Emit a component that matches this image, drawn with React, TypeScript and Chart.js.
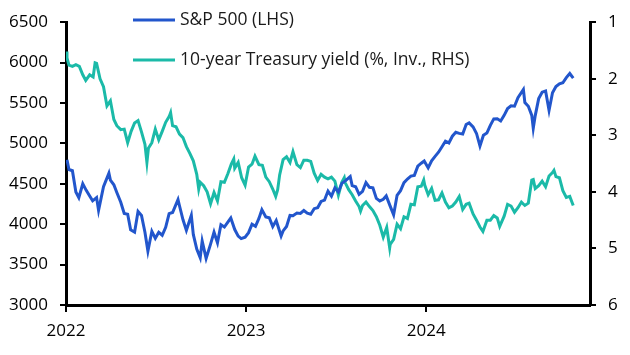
import React, { useEffect, useRef } from "react";
import { Chart, registerables } from "chart.js";

Chart.register(...registerables);

const yearTicks = [2022, 2023, 2024];
const xStart = "2022-01-01";
const xEnd = "2024-11-28";

const spxDates = [
  "2022-01-03","2022-01-07","2022-01-14","2022-01-21","2022-01-27","2022-02-04","2022-02-11","2022-02-18","2022-02-24","2022-03-04","2022-03-08","2022-03-18","2022-03-29","2022-04-01","2022-04-08","2022-04-14","2022-04-22","2022-04-29","2022-05-06","2022-05-12","2022-05-20","2022-05-27","2022-06-03","2022-06-10","2022-06-16","2022-06-24","2022-07-01","2022-07-08","2022-07-15","2022-07-22","2022-07-29","2022-08-05","2022-08-16","2022-08-19","2022-08-26","2022-09-02","2022-09-12","2022-09-16","2022-09-23","2022-09-30","2022-10-04","2022-10-12","2022-10-21","2022-10-28","2022-11-04","2022-11-11","2022-11-18","2022-11-25","2022-12-01","2022-12-09","2022-12-16","2022-12-22","2022-12-30",
  "2023-01-06","2023-01-13","2023-01-20","2023-01-27","2023-02-02","2023-02-10","2023-02-17","2023-02-24","2023-03-03","2023-03-13","2023-03-17","2023-03-24","2023-03-31","2023-04-06","2023-04-14","2023-04-21","2023-04-28","2023-05-05","2023-05-12","2023-05-19","2023-05-26","2023-06-02","2023-06-09","2023-06-16","2023-06-23","2023-06-30","2023-07-07","2023-07-14","2023-07-21","2023-07-31","2023-08-04","2023-08-11","2023-08-18","2023-08-25","2023-09-01","2023-09-08","2023-09-15","2023-09-22","2023-09-29","2023-10-06","2023-10-12","2023-10-20","2023-10-27","2023-11-03","2023-11-10","2023-11-17","2023-11-24","2023-12-01","2023-12-08","2023-12-15","2023-12-22","2023-12-28",
  "2024-01-05","2024-01-12","2024-01-19","2024-01-26","2024-02-02","2024-02-09","2024-02-16","2024-02-23","2024-03-01","2024-03-08","2024-03-15","2024-03-22","2024-03-28","2024-04-05","2024-04-12","2024-04-19","2024-04-26","2024-05-03","2024-05-10","2024-05-17","2024-05-24","2024-05-31","2024-06-07","2024-06-14","2024-06-21","2024-06-28","2024-07-05","2024-07-16","2024-07-19","2024-07-26","2024-08-02","2024-08-05","2024-08-09","2024-08-16","2024-08-23","2024-08-30","2024-09-06","2024-09-13","2024-09-20","2024-09-27","2024-10-04","2024-10-11","2024-10-18","2024-10-25"
];
const spxValues = [
  4797,4677,4662,4398,4327,4500,4419,4349,4289,4329,4171,4463,4632,4546,4488,4392,4272,4132,4123,3930,3901,4158,4109,3901,3667,3912,3825,3899,3863,3962,4130,4145,4305,4228,4058,3924,4110,3873,3693,3586,3791,3577,3753,3901,3771,3993,3965,4026,4077,3934,3852,3822,3840,
  3895,3999,3973,4071,4179,4090,4079,3970,4046,3855,3917,3971,4109,4105,4138,4133,4169,4136,4124,4192,4205,4282,4299,4410,4348,4450,4399,4505,4536,4589,4478,4464,4370,4406,4516,4457,4450,4320,4288,4308,4350,4224,4117,4358,4415,4514,4559,4595,4604,4719,4755,4783,
  4697,4784,4840,4891,4959,5027,5006,5089,5137,5124,5117,5234,5254,5204,5123,4967,5100,5128,5223,5303,5305,5278,5347,5432,5465,5460,5567,5667,5505,5459,5346,5186,5344,5554,5634,5648,5408,5626,5703,5738,5751,5815,5865,5808
];

const yldDates = [
  "2021-12-31","2022-01-03","2022-01-07","2022-01-14","2022-01-21","2022-01-28","2022-02-04","2022-02-10","2022-02-18","2022-02-25","2022-03-01","2022-03-04","2022-03-11","2022-03-18","2022-03-25","2022-04-01","2022-04-08","2022-04-14","2022-04-22","2022-04-29","2022-05-06","2022-05-13","2022-05-20","2022-05-27","2022-06-03","2022-06-10","2022-06-14","2022-06-17","2022-06-24","2022-07-01","2022-07-08","2022-07-15","2022-07-22","2022-07-29","2022-08-01","2022-08-05","2022-08-12","2022-08-19","2022-08-26","2022-09-02","2022-09-09","2022-09-16","2022-09-23","2022-09-27","2022-09-30","2022-10-07","2022-10-14","2022-10-21","2022-10-28","2022-11-04","2022-11-11","2022-11-18","2022-11-25","2022-12-02","2022-12-07","2022-12-09","2022-12-16","2022-12-23","2022-12-30",
  "2023-01-06","2023-01-13","2023-01-19","2023-01-27","2023-02-03","2023-02-10","2023-02-17","2023-02-24","2023-03-02","2023-03-06","2023-03-10","2023-03-17","2023-03-24","2023-03-31","2023-04-06","2023-04-14","2023-04-21","2023-04-28","2023-05-05","2023-05-12","2023-05-19","2023-05-26","2023-06-02","2023-06-09","2023-06-16","2023-06-23","2023-06-30","2023-07-07","2023-07-14","2023-07-19","2023-07-21","2023-07-28","2023-08-04","2023-08-11","2023-08-18","2023-08-21","2023-08-25","2023-09-01","2023-09-08","2023-09-15","2023-09-22","2023-09-29","2023-10-06","2023-10-13","2023-10-19","2023-10-20","2023-10-27","2023-11-03","2023-11-10","2023-11-17","2023-11-24","2023-12-01","2023-12-08","2023-12-15","2023-12-22","2023-12-27","2023-12-29",
  "2024-01-05","2024-01-12","2024-01-19","2024-01-26","2024-02-02","2024-02-09","2024-02-16","2024-02-23","2024-03-01","2024-03-08","2024-03-15","2024-03-22","2024-03-28","2024-04-05","2024-04-12","2024-04-19","2024-04-25","2024-05-03","2024-05-10","2024-05-17","2024-05-24","2024-05-29","2024-06-07","2024-06-14","2024-06-21","2024-06-28","2024-07-05","2024-07-12","2024-07-19","2024-07-26","2024-08-02","2024-08-05","2024-08-09","2024-08-16","2024-08-23","2024-08-30","2024-09-06","2024-09-13","2024-09-16","2024-09-20","2024-09-27","2024-10-04","2024-10-11","2024-10-18","2024-10-25"
];
const yldValues = [
  1.52,1.63,1.76,1.78,1.75,1.78,1.93,2.03,1.93,1.97,1.72,1.73,2.00,2.14,2.48,2.39,2.72,2.83,2.90,2.89,3.13,2.93,2.78,2.74,2.94,3.16,3.48,3.23,3.13,2.89,3.08,2.93,2.77,2.67,2.60,2.83,2.85,2.98,3.04,3.20,3.32,3.45,3.69,3.95,3.83,3.89,4.00,4.21,4.01,4.16,3.82,3.83,3.68,3.51,3.42,3.58,3.48,3.75,3.88,
  3.56,3.51,3.37,3.52,3.53,3.74,3.82,3.95,4.08,3.96,3.70,3.43,3.38,3.48,3.29,3.52,3.57,3.44,3.44,3.46,3.67,3.80,3.69,3.74,3.77,3.74,3.81,4.06,3.83,3.75,3.84,3.96,4.05,4.16,4.26,4.34,4.24,4.18,4.26,4.33,4.44,4.59,4.80,4.63,4.99,4.93,4.84,4.57,4.65,4.44,4.47,4.22,4.23,3.91,3.90,3.79,3.88,
  4.05,3.94,4.15,4.14,4.02,4.18,4.28,4.25,4.18,4.08,4.31,4.22,4.20,4.39,4.50,4.62,4.70,4.50,4.50,4.42,4.46,4.61,4.43,4.22,4.25,4.36,4.28,4.18,4.24,4.20,3.79,3.78,3.94,3.89,3.81,3.91,3.72,3.66,3.62,3.73,3.75,3.98,4.10,4.08,4.24
];

const spxLabel = "S&P 500 (LHS)";
const yldLabel = "10-year Treasury yield (%, Inv., RHS)";
const BLUE = "#2256CC";
const TEAL = "#1BBAA8";
const FONT = "'Open Sans', 'Noto Sans', sans-serif";

const DAY = 86400000;
const t0 = Date.parse(xStart + "T00:00:00Z");
const toDay = (d: string) => (Date.parse(d + "T00:00:00Z") - t0) / DAY;

const legendPlugin = {
  id: "customLegend",
  afterDraw(chart: any) {
    const ctx = chart.ctx;
    const items = [
      { label: spxLabel, color: BLUE, y: 20 },
      { label: yldLabel, color: TEAL, y: 60 },
    ];
    ctx.save();
    for (const it of items) {
      ctx.strokeStyle = it.color;
      ctx.lineWidth = 3;
      ctx.beginPath();
      ctx.moveTo(133, it.y);
      ctx.lineTo(175, it.y);
      ctx.stroke();
      ctx.fillStyle = "#1a1a1a";
      ctx.font = "17.5px " + FONT;
      ctx.textBaseline = "middle";
      ctx.textAlign = "left";
      ctx.fillText(it.label, 180, it.y);
    }
    ctx.restore();
  },
};

export default function App() {
  const ref = useRef<HTMLCanvasElement>(null);
  useEffect(() => {
    document.body.style.margin = "0";
    const yearDays = yearTicks.map((y) => toDay(`${y}-01-01`));
    const chart = new Chart(ref.current!, {
      type: "line",
      data: {
        datasets: [
          {
            label: spxLabel,
            data: spxDates.map((d, i) => ({ x: toDay(d), y: spxValues[i] })),
            borderColor: BLUE,
            borderWidth: 3,
            pointRadius: 0,
            tension: 0,
            yAxisID: "y",
          },
          {
            label: yldLabel,
            data: yldDates.map((d, i) => ({ x: Math.max(0, toDay(d)), y: yldValues[i] })),
            borderColor: TEAL,
            borderWidth: 3,
            pointRadius: 0,
            tension: 0,
            yAxisID: "y1",
          },
        ],
      },
      options: {
        animation: false,
        responsive: false,
        maintainAspectRatio: false,
        layout: { padding: { top: 15, left: 0, right: 0, bottom: 0 } },
        plugins: { legend: { display: false }, tooltip: { enabled: false } },
        scales: {
          x: {
            type: "linear",
            min: 0,
            max: toDay(xEnd),
            afterBuildTicks: (s: any) => {
              s.ticks = yearDays.map((v) => ({ value: v }));
            },
            afterFit: (s: any) => {
              s.height = 50;
            },
            ticks: {
              callback: (v: any) => {
                const i = yearDays.indexOf(v);
                return i >= 0 ? String(yearTicks[i]) : "";
              },
              color: "#000",
              font: { size: 17, family: FONT },
              padding: 9,
              maxRotation: 0,
              autoSkip: false,
            },
            grid: { drawOnChartArea: false, drawTicks: true, tickLength: 7, color: "#000", lineWidth: 2 },
            border: { display: true, color: "#000", width: 3 },
          },
          y: {
            position: "left",
            min: 3000,
            max: 6500,
            afterFit: (s: any) => {
              s.width = 66;
            },
            ticks: {
              stepSize: 500,
              color: "#000",
              font: { size: 17, family: FONT },
              padding: 12,
              callback: (v: any) => String(v),
            },
            grid: { drawOnChartArea: false, drawTicks: true, tickLength: 6, color: "#000", lineWidth: 2 },
            border: { display: true, color: "#000", width: 3 },
          },
          y1: {
            position: "right",
            min: 1,
            max: 6,
            reverse: true,
            afterFit: (s: any) => {
              s.width = 40;
            },
            ticks: {
              stepSize: 1,
              color: "#000",
              font: { size: 17, family: FONT },
              padding: 12,
              callback: (v: any) => String(v),
            },
            grid: { drawOnChartArea: false, drawTicks: true, tickLength: 6, color: "#000", lineWidth: 2 },
            border: { display: true, color: "#000", width: 3 },
          },
        },
      },
      plugins: [legendPlugin],
    } as any);
    return () => chart.destroy();
  }, []);
  return (
    <div style={{ width: 630, height: 355 }}>
      <canvas ref={ref} width={630} height={355} style={{ display: "block" }} />
    </div>
  );
}
